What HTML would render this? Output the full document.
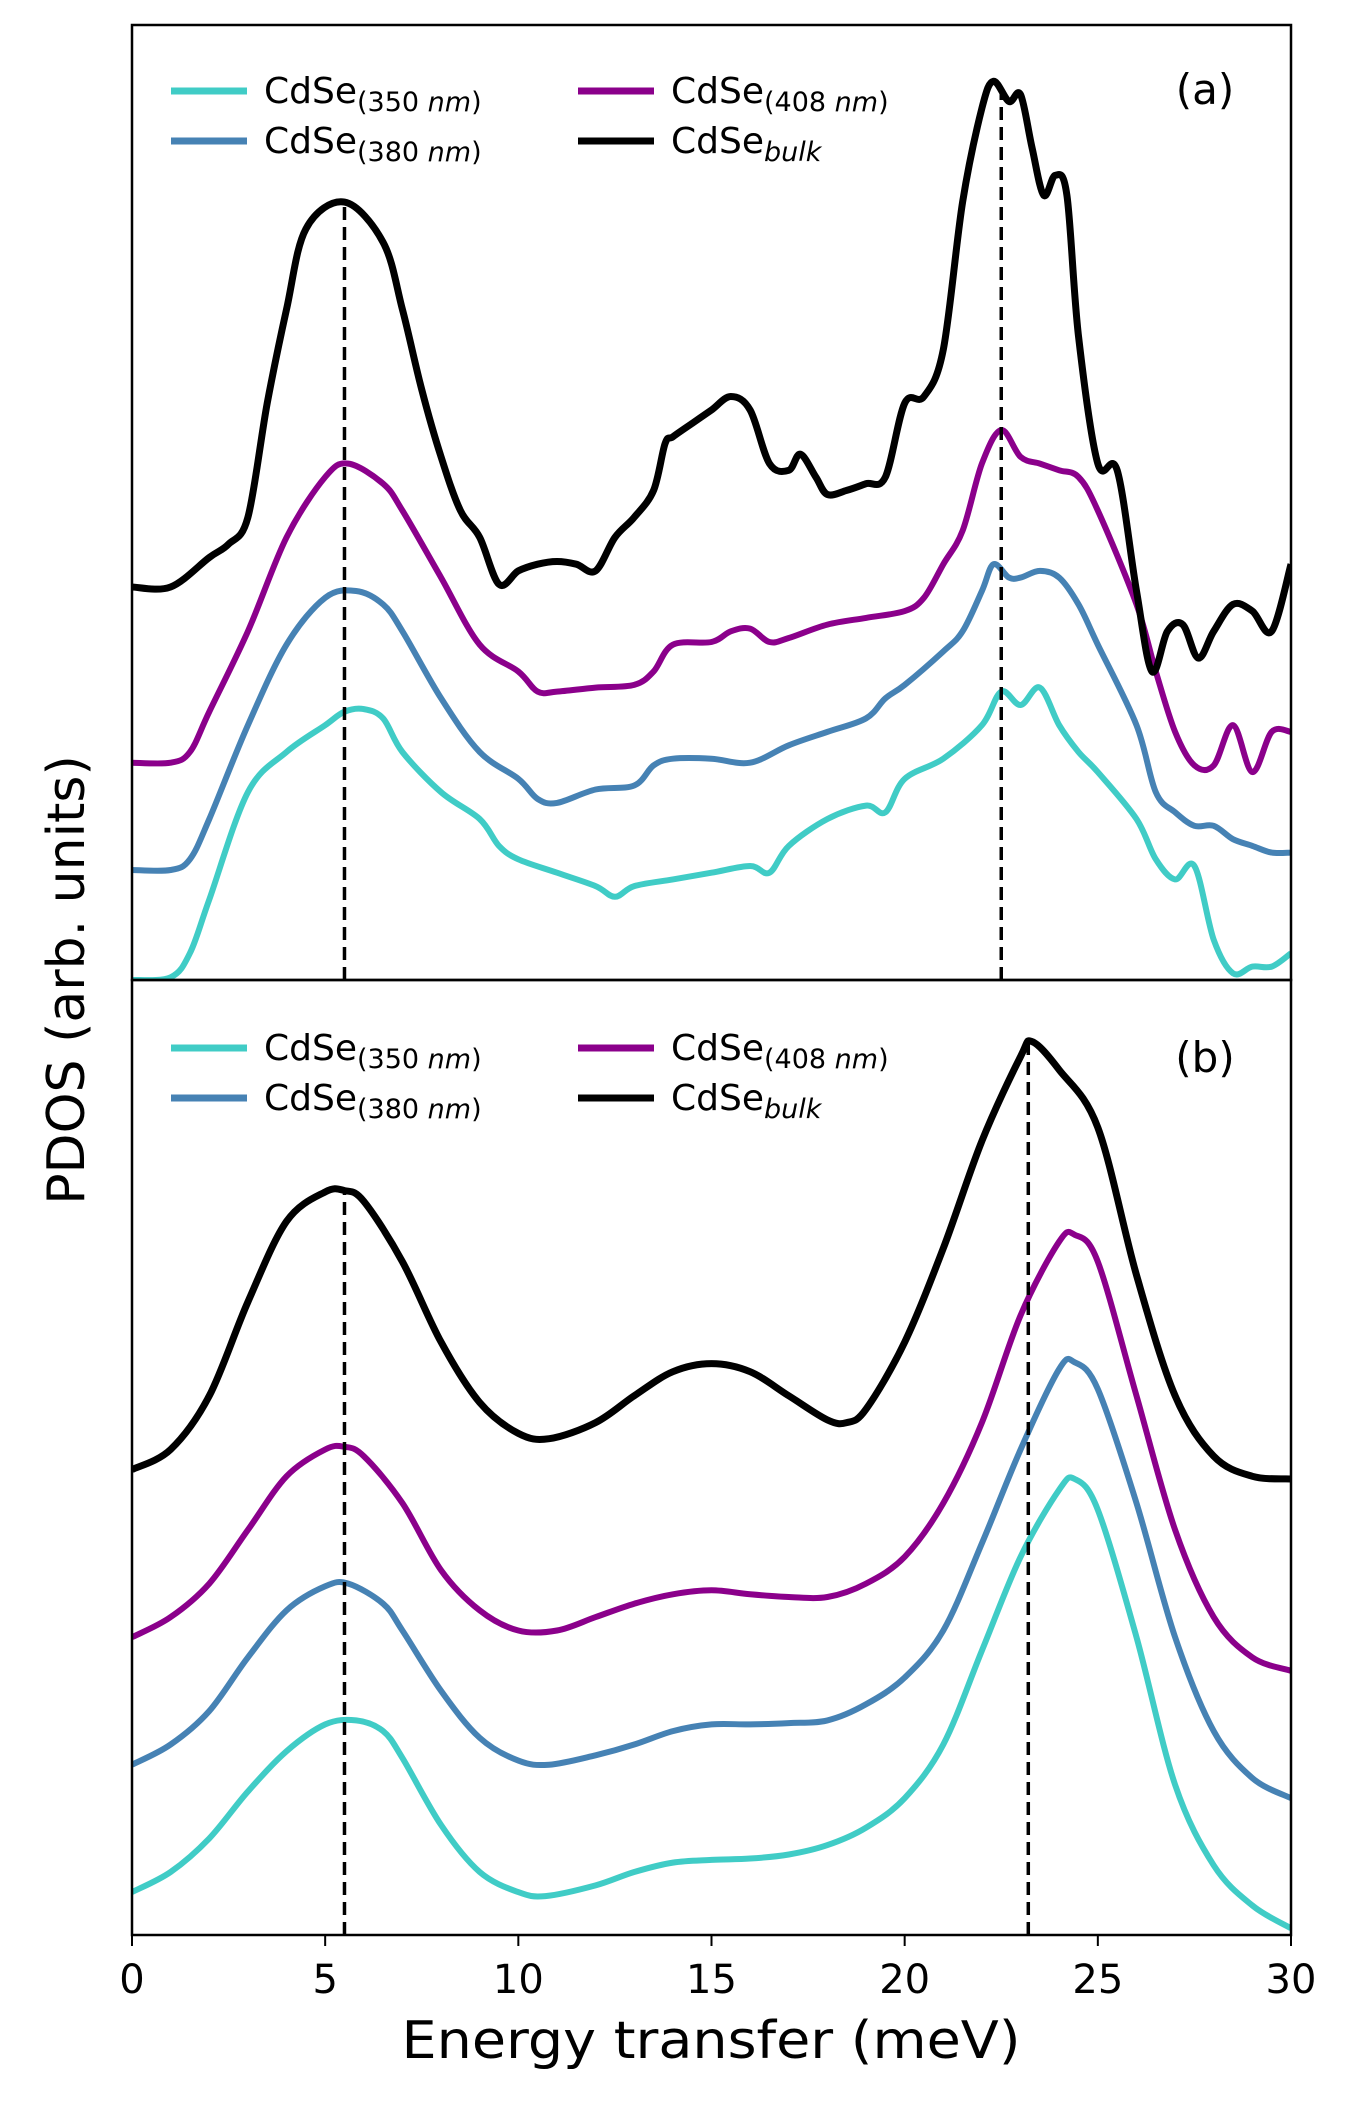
<!DOCTYPE html>
<html><head><meta charset="utf-8"><style>
html,body{margin:0;padding:0;background:#fff;}
svg{display:block;font-family:"DejaVu Sans","Liberation Sans",sans-serif;}
</style></head><body>
<svg id="chart" width="1371" height="2111" viewBox="0 0 1371 2111" xmlns="http://www.w3.org/2000/svg">
<g id="plots"></g>
<g id="frame"></g>
<text x="711" y="2058" font-size="52" text-anchor="middle" textLength="619" lengthAdjust="spacingAndGlyphs">Energy transfer (meV)</text>
<text x="0" y="0" font-size="52" text-anchor="middle" transform="translate(84,980) rotate(-90)">PDOS (arb. units)</text>
<text x="1205" y="104" font-size="42" text-anchor="middle">(a)</text>
<text x="1205" y="1072" font-size="42" text-anchor="middle">(b)</text>
</svg>
<script>
const xTicks=[0,5,10,15,20,25,30];
const topBulkX=[0,1,2,2.5,3,3.5,4,4.5,5.5,6.5,7,7.5,8,8.5,9,9.5,10,10.5,11,11.5,12,12.5,13,13.5,13.8,14,14.5,15,15.5,16,16.5,17,17.3,17.7,18,18.5,19,19.5,20,20.5,21,21.5,22,22.3,22.7,23,23.3,23.6,23.9,24.2,24.5,25,25.5,26,26.4,26.8,27.2,27.6,28,28.5,29,29.5,30];
const topBulkY=[293,293,315,325,345,430,500,560,580,550,500,440,390,350,330,295,305,310,312,310,305,330,345,365,400,405,415,425,435,425,385,380,392,375,362,365,370,375,430,435,470,580,650,670,655,660,620,585,600,585,480,385,380,290,230,260,265,240,260,280,275,260,310];
const top408X=[0,1,1.5,2,3,4,5,5.6,6.5,7,8,9,10,10.5,11,12,13,13.5,14,15,15.5,16,16.5,17,18,19,20,20.5,21,21.5,22,22.5,23,23.5,24,24.5,25,26,26.5,27,27.5,28,28.5,29,29.5,30];
const top408Y=[162,162,170,200,260,330,375,385,370,350,300,250,230,215,215,218,220,230,250,252,260,262,252,255,265,270,275,285,310,335,385,410,390,385,380,375,350,280,230,185,160,160,190,155,185,185];
const top380X=[0,1,1.5,2,3,4,5,5.8,6.5,7,8,9,10,10.5,11,12,13,13.5,14,15,16,17,18,19,19.5,20,21,21.5,22,22.3,22.7,23,23.5,24,24.5,25,26,26.5,27,27.5,28,28.5,29,29.5,30];
const top380Y=[82,82,90,120,190,250,285,290,280,260,210,170,150,135,132,142,145,160,165,165,162,175,185,195,210,220,245,260,290,310,300,300,305,300,280,250,190,140,125,115,115,105,100,95,95];
const top350X=[0,1,1.5,2,3,4,5,5.5,6,6.5,7,8,9,9.5,10,11,12,12.5,13,14,15,16,16.5,17,18,19,19.5,20,21,22,22.5,23,23.5,24,24.5,25,26,26.5,27,27.5,28,28.5,29,29.5,30];
const top350Y=[0,2,20,60,140,170,190,200,202,195,170,140,120,100,90,80,70,62,70,75,80,85,80,100,120,130,125,150,165,190,215,205,218,190,170,155,120,90,75,85,30,5,10,10,20];
const botBulkX=[0,1,2,3,4,5,5.5,6,7,8,9,10,10.8,12,13,14,15,16,17,18,18.5,19,20,21,22,23,23.3,24,25,26,27,28,29,30];
const botBulkY=[347,362,402,472,532,554,555,547,502,442,397,374,370,382,402,420,426,420,402,384,382,392,442,512,592,655,666,645,602,492,402,357,342,340];
const bot408X=[0,1,2,3,4,5,5.5,6,7,8,9,10,11,12,13,14,15,16,17,18,19,20,21,22,23,24,24.4,25,26,27,28,29,30];
const bot408Y=[222,237,262,302,342,362,364,357,322,272,242,227,227,237,247,254,257,254,252,252,262,282,322,382,462,517,522,502,402,302,237,207,197];
const bot380X=[0,1,2,3,4,5,5.6,6.5,7,8,9,10,10.8,12,13,14,15,16,17,18,19,20,21,22,23,24,24.4,25,26,27,28,29,30];
const bot380Y=[127,142,167,207,242,260,262,247,227,182,147,130,127,134,142,152,157,157,158,160,172,192,227,292,362,422,427,407,322,222,152,117,102];
const bot350X=[0,1,2,3,4,5,5.8,6.5,7,8,9,10,10.7,12,13,14,15,16,17,18,19,20,21,22,23,24,24.4,25,26,27,28,29,30];
const bot350Y=[32,47,72,107,137,157,160,152,132,82,47,32,29,37,47,54,56,57,60,67,80,102,142,212,282,332,340,317,222,112,52,22,5];
const topPeaks=[5.5,22.5];
const botPeaks=[5.5,23.2];

const NS="http://www.w3.org/2000/svg";
const L=132,R=1291,T=25,M=980,B=1935;
const xs=v=>L+(v-0)/(30-0)*(R-L);
const ysTop=v=>M-v/712*(M-T);
const ysBot=v=>B-v/712*(B-M);
function mk(tag,attrs,parent){const e=document.createElementNS(NS,tag);for(const k in attrs)e.setAttribute(k,attrs[k]);parent.appendChild(e);return e;}
function pathD(X,Y,ys){
  const P=X.map((x,i)=>[xs(x),ys(Y[i])]);
  let d="M"+P[0][0].toFixed(1)+","+P[0][1].toFixed(1);
  for(let i=0;i<P.length-1;i++){
    const p0=P[Math.max(0,i-1)],p1=P[i],p2=P[i+1],p3=P[Math.min(P.length-1,i+2)];
    const c1=[p1[0]+(p2[0]-p0[0])/6,p1[1]+(p2[1]-p0[1])/6];
    const c2=[p2[0]-(p3[0]-p1[0])/6,p2[1]-(p3[1]-p1[1])/6];
    d+="C"+c1[0].toFixed(1)+","+c1[1].toFixed(1)+" "+c2[0].toFixed(1)+","+c2[1].toFixed(1)+" "+p2[0].toFixed(1)+","+p2[1].toFixed(1);
  }
  return d;
}
const plots=document.getElementById('plots');
const frame=document.getElementById('frame');
const defs=mk('defs',{},plots);
const c1=mk('clipPath',{id:'ct'},defs);mk('rect',{x:L,y:T,width:R-L,height:M-T},c1);
const c2=mk('clipPath',{id:'cb'},defs);mk('rect',{x:L,y:M,width:R-L,height:B-M},c2);
const gt=mk('g',{'clip-path':'url(#ct)'},plots);


const gb=mk('g',{'clip-path':'url(#cb)'},plots);


const series=[
 [gt,top350X,top350Y,ysTop,'#40CCC6','top-line-350nm',6],
 [gt,top380X,top380Y,ysTop,'#4682B4','top-line-380nm',6],
 [gt,top408X,top408Y,ysTop,'#8B008B','top-line-408nm',6],
 [gt,topBulkX,topBulkY,ysTop,'#000000','top-line-bulk',7],
 [gb,bot350X,bot350Y,ysBot,'#40CCC6','bottom-line-350nm',6],
 [gb,bot380X,bot380Y,ysBot,'#4682B4','bottom-line-380nm',6],
 [gb,bot408X,bot408Y,ysBot,'#8B008B','bottom-line-408nm',6],
 [gb,botBulkX,botBulkY,ysBot,'#000000','bottom-line-bulk',7]];
series.forEach(s=>{
  const p=mk('path',{d:pathD(s[1],s[2],s[3]),fill:'none',stroke:s[4],'stroke-width':s[6],'stroke-linejoin':'round'},s[0]);
  
  
});
const topTops=[580,670];
topPeaks.forEach((v,i)=>{
  const l=mk('line',{x1:xs(v),x2:xs(v),y1:ysTop(0),y2:ysTop(topTops[i]),stroke:'#000','stroke-width':3.5,'stroke-dasharray':'13,7'},gt);
  
  
});
const botTops=[555,666];
botPeaks.forEach((v,i)=>{
  const l=mk('line',{x1:xs(v),x2:xs(v),y1:ysBot(0),y2:ysBot(botTops[i]),stroke:'#000','stroke-width':3.5,'stroke-dasharray':'13,7'},gb);
  
  
});
[[T,M,'panel-a-frame'],[M,B,'panel-b-frame']].forEach(f=>{
  const r=mk('rect',{x:L,y:f[0],width:R-L,height:f[1]-f[0],fill:'none',stroke:'#000','stroke-width':2.5},frame);
  
  
});
xTicks.forEach(t=>{
  const tk=mk('line',{x1:xs(t),x2:xs(t),y1:B,y2:B+11,stroke:'#000','stroke-width':2},frame);
  
  
  const tl=mk('text',{x:xs(t),y:B+58,'font-size':40,'text-anchor':'middle'},frame);
  tl.textContent=String(t);
  
  
});
function legend(y1,y2,name){
  const g=mk('g',{},frame);
  
  
  const items=[[171,y1,'#40CCC6','350 nm'],[171,y2,'#4682B4','380 nm'],[578,y1,'#8B008B','408 nm'],[578,y2,'#000000','bulk']];
  items.forEach(it=>{
    const e=mk('g',{},g);
    
    
    mk('line',{x1:it[0],x2:it[0]+76,y1:it[1],y2:it[1],stroke:it[2],'stroke-width':7},e);
    const t=mk('text',{x:it[0]+93,y:it[1]+12,'font-size':36},e);
    t.appendChild(document.createTextNode('CdSe'));
    const s=mk('tspan',{'font-size':27,dy:8},t);
    if(it[3]==='bulk'){s.setAttribute('font-style','italic');s.textContent='bulk';}
    else{const p=it[3].split(' ');s.textContent='('+p[0]+' ';const i=mk('tspan',{'font-style':'italic'},s);i.textContent=p[1];s.appendChild(document.createTextNode(')'));}
  });
}
legend(91,141,'panel-a-legend');
legend(1048,1098,'panel-b-legend');
</script>
</body></html>
